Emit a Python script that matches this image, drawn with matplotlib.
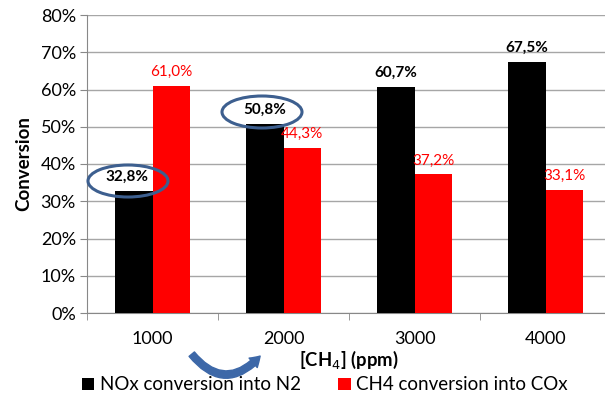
import numpy as np
import matplotlib.pyplot as plt
from matplotlib.patches import Ellipse, FancyArrowPatch

plt.rcParams['font.family'] = ['Lato', 'DejaVu Sans']

categories = ['1000', '2000', '3000', '4000']
nox = [32.8, 50.8, 60.7, 67.5]
ch4 = [61.0, 44.3, 37.2, 33.1]
nox_labels = ['32,8%', '50,8%', '60,7%', '67,5%']
ch4_labels = ['61,0%', '44,3%', '37,2%', '33,1%']

W, H = 605, 399
fig = plt.figure(figsize=(W / 100, H / 100), dpi=100)
ax = fig.add_axes([87 / W, 86 / H, (611 - 87) / W, 298 / H])

x = np.arange(len(categories))
bw = 0.285
b1 = ax.bar(x - bw / 2, nox, bw, color='black', label='NOx conversion into N2', zorder=3)
b2 = ax.bar(x + bw / 2, ch4, bw, color='#ff0000', label='CH4 conversion into COx', zorder=3)

for i, (rect, lab) in enumerate(zip(b1, nox_labels)):
    dx = -5 if i == 0 else 0
    ax.annotate(lab, (rect.get_x() + rect.get_width() / 2, rect.get_height()),
                xytext=(dx, 5), textcoords='offset points', ha='center', va='bottom',
                fontsize=11, fontweight='bold', color='black', zorder=5)
for rect, lab in zip(b2, ch4_labels):
    ax.annotate(lab, (rect.get_x() + rect.get_width() / 2, rect.get_height()),
                xytext=(0, 5), textcoords='offset points', ha='center', va='bottom',
                fontsize=11, color='#ff0000', zorder=5)

ax.set_xlim(-0.5, len(categories) - 0.5)
ax.set_ylim(0, 80)
ax.set_yticks(np.arange(0, 81, 10))
ax.set_yticklabels([f'{v}%' for v in range(0, 81, 10)], fontsize=13)
ax.set_xticks(x)
ax.set_xticklabels(categories, fontsize=13)
ax.set_xticks(np.arange(-0.5, len(categories), 1), minor=True)
ax.tick_params(axis='x', which='major', length=0, pad=13)
ax.tick_params(axis='x', which='minor', length=5, color='#888888')
ax.tick_params(axis='y', length=5, color='#888888', pad=3)
ax.yaxis.grid(True, color='#a6a6a6', lw=1, zorder=0)
for s in ['top', 'right']:
    ax.spines[s].set_visible(False)
for s in ['left', 'bottom']:
    ax.spines[s].set_color('#888888')

ax.set_xlabel('[CH$_4$] (ppm)', fontsize=13.3, fontweight='bold', labelpad=1)
ax.set_ylabel('Conversion', fontsize=13.5, fontweight='bold', labelpad=6)

# circled labels
for cx, cy in [(128, 181), (262, 112)]:
    fig.patches.append(Ellipse((cx / W, 1 - cy / H), 80 / W, 32 / H, transform=fig.transFigure,
                               fill=False, ec='#3d5f8f', lw=2.2, zorder=10))

# curved arrow
arr = FancyArrowPatch((190 / W, 1 - 352 / H), (262 / W, 1 - 354 / H), transform=fig.transFigure,
                      connectionstyle='arc3,rad=0.6', arrowstyle='simple,head_width=9,head_length=7,tail_width=5',
                      color='#3d68a8', zorder=10)
fig.patches.append(arr)

fig.legend(handles=[b1, b2], loc='center', bbox_to_anchor=(325 / W, 1 - 385 / H), ncol=2,
           frameon=False, fontsize=13.5, handlelength=0.65, handleheight=0.65, handletextpad=0.3,
           columnspacing=2.0, borderaxespad=0)

fig.savefig('out.png', dpi=100)
